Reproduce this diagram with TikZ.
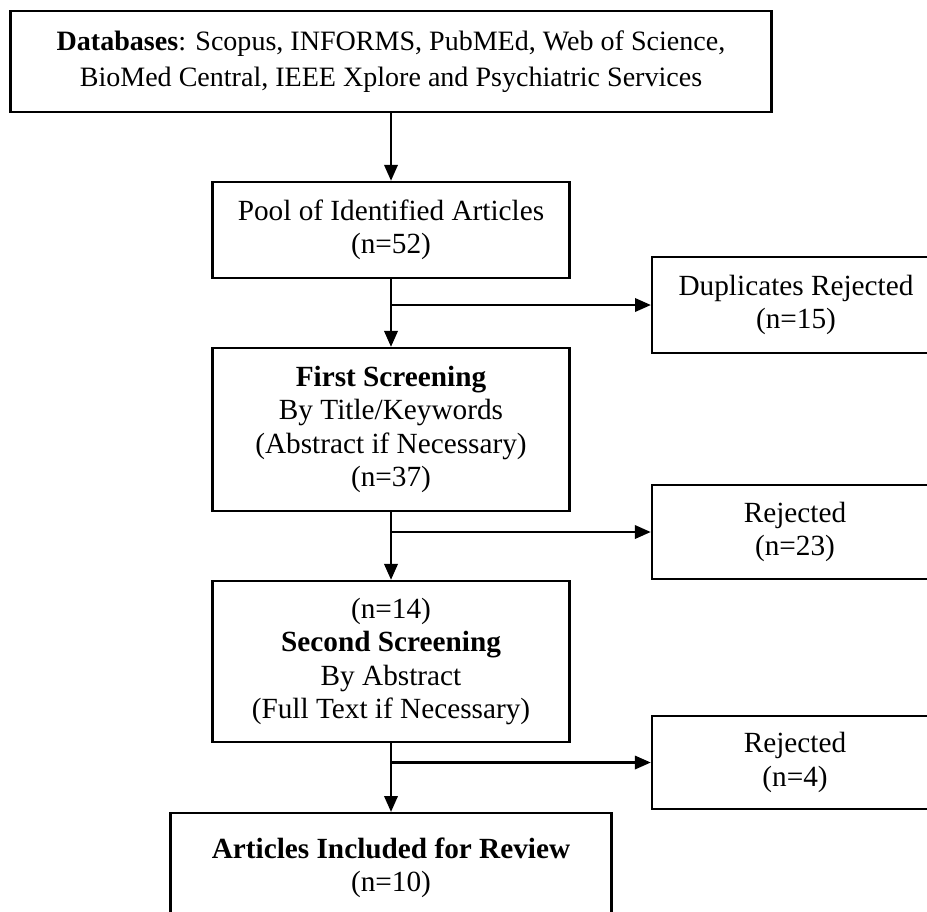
\documentclass[tikz,border=0pt]{standalone}
\usepackage{fontspec}
\setmainfont{Liberation Serif}
\usetikzlibrary{arrows.meta}
\begin{document}
\begin{tikzpicture}[x=0.41pt,y=-0.41pt,every node/.style={font=\fontsize{12}{13.6}\selectfont},
  box/.style={draw,line width=1pt,align=center,inner sep=2pt},
  arr/.style={-{Triangle[length=6.5pt,width=5.5pt]},line width=0.9pt}]
\clip (0,0) rectangle (927,911);
% main column
\node[box,minimum width=312pt,minimum height=41.4pt,font=\fontsize{11.5}{15}\selectfont] (db) at (391,61.5) {\textbf{Databases}: Scopus, INFORMS, PubMEd, Web of Science,\\BioMed Central, IEEE Xplore and Psychiatric Services};
\node[box,minimum width=146.4pt,minimum height=39.4pt] (pool) at (391,230) {Pool of Identified Articles\\(n=52)};
\node[box,minimum width=146.4pt,minimum height=66.8pt] (first) at (391,429.5) {\textbf{First Screening}\\By Title/Keywords\\(Abstract if Necessary)\\(n=37)};
\node[box,minimum width=146.4pt,minimum height=66pt] (second) at (391,661.5) {(n=14)\\\textbf{Second Screening}\\By Abstract\\(Full Text if Necessary)};
\node[box,minimum width=180.8pt,minimum height=45pt] (incl) at (391,868) {\textbf{Articles Included for Review}\\(n=10)};
% rejected boxes on the right
\node[box,minimum width=118pt,minimum height=39.4pt] (dup) at (796,305) {Duplicates Rejected\\(n=15)};
\node[box,minimum width=117.3pt,minimum height=38.5pt] (rej1) at (795,532) {Rejected\\(n=23)};
\node[box,minimum width=117.3pt,minimum height=38.2pt] (rej2) at (795,762.5) {Rejected\\(n=4)};
% arrows
\draw[arr] (db) -- (pool);
\draw[arr] (pool) -- (first);
\draw[arr] (first) -- (second);
\draw[arr] (second) -- (incl);
\draw[arr] (pool.south |- dup.west) -- (dup.west);
\draw[arr] (first.south |- rej1.west) -- (rej1.west);
\draw[arr] (second.south |- rej2.west) -- (rej2.west);
\end{tikzpicture}
\end{document}
